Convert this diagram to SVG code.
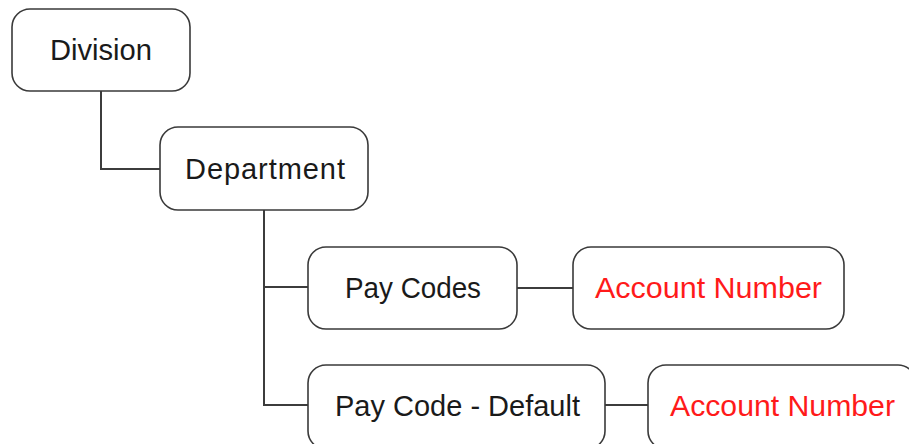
<svg xmlns="http://www.w3.org/2000/svg" width="909" height="444" viewBox="0 0 909 444">
<style>
.box{fill:#fff;stroke:#3a3a3a;stroke-width:1.6}
.lbl{font-family:"Liberation Sans",Arial,sans-serif;font-size:29px;fill:#1a1a1a;text-anchor:middle}
.red{fill:#ff1a1a}
.conn{fill:none;stroke:#3c3c3c;stroke-width:2}
</style>
<rect width="909" height="444" fill="#fff"/>
<g id="connectors">
<path class="conn" d="M101,91 V169 H160"/>
<path class="conn" d="M264,210 V405 H308"/>
<path class="conn" d="M264,287 H308"/>
<path class="conn" d="M517,288 H573"/>
<path class="conn" d="M605,405 H648"/>
</g>
<g id="division">
<rect class="box" x="12" y="9" width="178" height="82" rx="18"/>
<text class="lbl" x="101" y="60" textLength="102" lengthAdjust="spacingAndGlyphs">Division</text>
</g>
<g id="department">
<rect class="box" x="160" y="127" width="208" height="83" rx="18"/>
<text class="lbl" x="265" y="179" textLength="160" lengthAdjust="spacing">Department</text>
</g>
<g id="paycodes">
<rect class="box" x="308" y="247" width="209" height="82" rx="18"/>
<text class="lbl" x="413" y="298" textLength="136" lengthAdjust="spacingAndGlyphs">Pay Codes</text>
</g>
<g id="account1">
<rect class="box" x="573" y="247" width="271" height="82" rx="18"/>
<text class="lbl red" x="708.5" y="298" textLength="227" lengthAdjust="spacingAndGlyphs">Account Number</text>
</g>
<g id="paycodedefault">
<rect class="box" x="308" y="365" width="297" height="84" rx="18"/>
<text class="lbl" x="457.5" y="416" textLength="245" lengthAdjust="spacingAndGlyphs">Pay Code - Default</text>
</g>
<g id="account2">
<rect class="box" x="648" y="365" width="268" height="84" rx="18"/>
<text class="lbl red" x="782.5" y="416" textLength="225" lengthAdjust="spacingAndGlyphs">Account Number</text>
</g>
</svg>
